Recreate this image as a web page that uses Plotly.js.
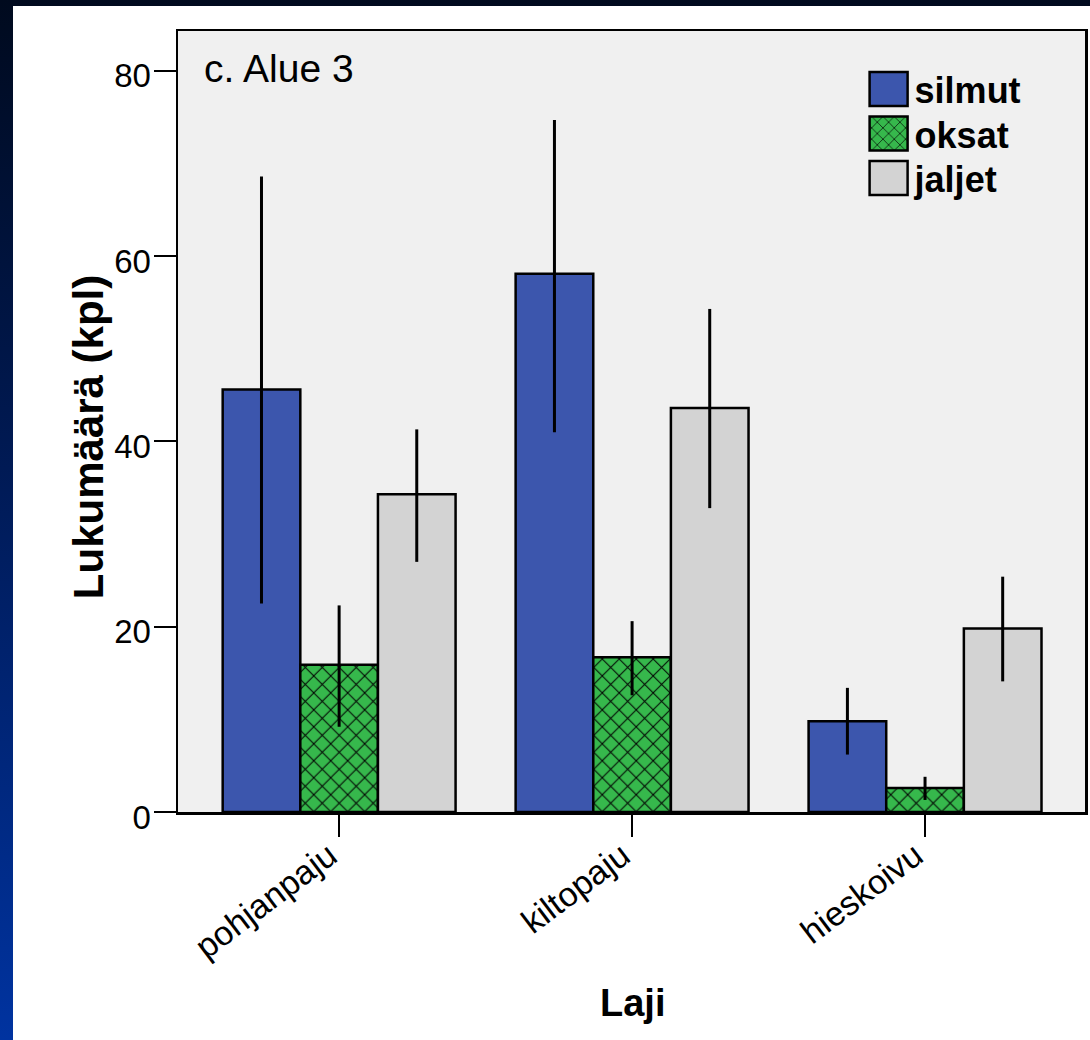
<!DOCTYPE html>
<html>
<head>
<meta charset="utf-8">
<script src="https://cdn.plot.ly/plotly-3.0.1.min.js"></script>
<style>
  html, body { margin: 0; padding: 0; width: 1090px; height: 1040px; overflow: hidden;
    background: linear-gradient(to bottom, #000a1e 0%, #001a55 45%, #0033a0 100%); }
  #chart { position: absolute; left: 13px; top: 6px; width: 1077px; height: 1034px; background: #ffffff; }
</style>
</head>
<body>
<div id="chart"></div>
<script>
// ---- data ----
const categories = ["pohjanpaju", "kiltopaju", "hieskoivu"];
const seriesNames = ["silmut", "oksat", "jaljet"];

const silmutMean  = [45.6, 58.1, 9.8];
const silmutUpper = [68.6, 74.7, 13.4];
const silmutLower = [22.5, 41.0, 6.2];

const oksatMean  = [15.9, 16.7, 2.6];
const oksatUpper = [22.3, 20.6, 3.8];
const oksatLower = [9.2, 12.6, 1.3];

const jaljetMean  = [34.3, 43.6, 19.8];
const jaljetUpper = [41.3, 54.3, 25.4];
const jaljetLower = [27.0, 32.8, 14.1];

const yTickVals = [0, 20, 40, 60, 80];
const panelLabel = "c. Alue 3";
const xTitle = "Laji";
const yTitle = "Lukumäärä (kpl)";

// ---- helpers ----
function errBar(mean, upper, lower) {
  return {
    type: "data", symmetric: false,
    array: mean.map((m, i) => upper[i] - m),
    arrayminus: mean.map((m, i) => m - lower[i]),
    color: "#000000", thickness: 3, width: 0
  };
}

const font = "Liberation Sans, Arial, sans-serif";

const traces = [
  {
    type: "bar", name: seriesNames[0], x: categories, y: silmutMean,
    marker: { color: "#3c56ad", line: { color: "#000000", width: 2.5 } },
    error_y: errBar(silmutMean, silmutUpper, silmutLower)
  },
  {
    type: "bar", name: seriesNames[1], x: categories, y: oksatMean,
    marker: { color: "#36b84c", line: { color: "#000000", width: 2.5 },
      pattern: { shape: "x", fgcolor: "#000000", bgcolor: "#36b84c", size: 12, solidity: 0.16 } },
    error_y: errBar(oksatMean, oksatUpper, oksatLower)
  },
  {
    type: "bar", name: seriesNames[2], x: categories, y: jaljetMean,
    marker: { color: "#d3d3d3", line: { color: "#000000", width: 2.5 } },
    error_y: errBar(jaljetMean, jaljetUpper, jaljetLower)
  }
];

const layout = {
  width: 1077, height: 1034,
  margin: { l: 165, r: 5, t: 25, b: 228 },
  paper_bgcolor: "#ffffff",
  plot_bgcolor: "#f0f0f0",
  barmode: "group",
  bargap: 0.205,
  bargroupgap: 0,
  showlegend: true,
  font: { family: font, color: "#000000", size: 32 },
  xaxis: {
    type: "category",
    range: [-0.55, 2.546],
    tickangle: -37,
    tickfont: { size: 34, family: font },
    ticks: "outside", ticklen: 22, tickwidth: 2, tickcolor: "#000000",
    ticklabelstandoff: -14, ticklabelshift: -10,
    showline: true, linecolor: "#000000", linewidth: 2.5, mirror: true,
    showgrid: false, zeroline: false,
    automargin: false
  },
  yaxis: {
    range: [0, 84.3],
    tickvals: yTickVals,
    tickfont: { size: 33, family: font },
    ticks: "outside", ticklen: 22, tickwidth: 2, tickcolor: "#000000",
    ticklabelstandoff: -4, ticklabelshift: 5,
    showline: true, linecolor: "#000000", linewidth: 2.5, mirror: true,
    showgrid: false, zeroline: false,
    automargin: false
  },
  legend: {
    x: 0.757, y: 0.964, xanchor: "left", yanchor: "top",
    bgcolor: "rgba(0,0,0,0)", borderwidth: 0,
    font: { size: 36, family: font, weight: "bold" },
    itemwidth: 40, tracegroupgap: 0
  },
  annotations: [
    {
      text: panelLabel, xref: "paper", yref: "paper", x: 0.026, y: 0.952,
      xanchor: "left", yanchor: "middle", showarrow: false,
      font: { size: 39, family: font }
    },
    {
      text: yTitle, xref: "paper", yref: "paper", x: -0.0992, y: 0.480,
      xanchor: "center", yanchor: "middle", textangle: -90, showarrow: false,
      font: { size: 42, family: font, weight: "bold" }
    },
    {
      text: xTitle, xref: "paper", yref: "paper", x: 0.5006, y: -0.2446,
      xanchor: "center", yanchor: "middle", showarrow: false,
      font: { size: 38, family: font, weight: "bold" }
    }
  ]
};

Plotly.newPlot("chart", traces, layout, { displayModeBar: false, staticPlot: true }).then(function (gd) {
  // enlarge the legend swatches to the reference's big squares and tighten the item spacing
  const items = gd.querySelectorAll(".legend g.traces");
  let firstY = null;
  items.forEach(function (item, i) {
    const tr = item.getAttribute("transform") || "";
    const m = tr.match(/translate\(\s*([-\d.]+)[ ,]+([-\d.]+)\s*\)/);
    if (m) {
      const tx = parseFloat(m[1]), ty = parseFloat(m[2]);
      if (firstY === null) firstY = ty;
      item.setAttribute("transform", "translate(" + tx + "," + (firstY + i * 44.5) + ")");
    }
    const txt = item.querySelector("text.legendtext");
    const textX = txt ? parseFloat(txt.getAttribute("x")) || 50 : 50;
    item.querySelectorAll(".legendpoints path").forEach(function (p) {
      p.setAttribute("d", "M-19,-17H19V17H-19Z");
      p.setAttribute("transform", "translate(" + (textX - 26) + ",0)");
      p.style.strokeWidth = "2.5px";
    });
  });
});
</script>
</body>
</html>
